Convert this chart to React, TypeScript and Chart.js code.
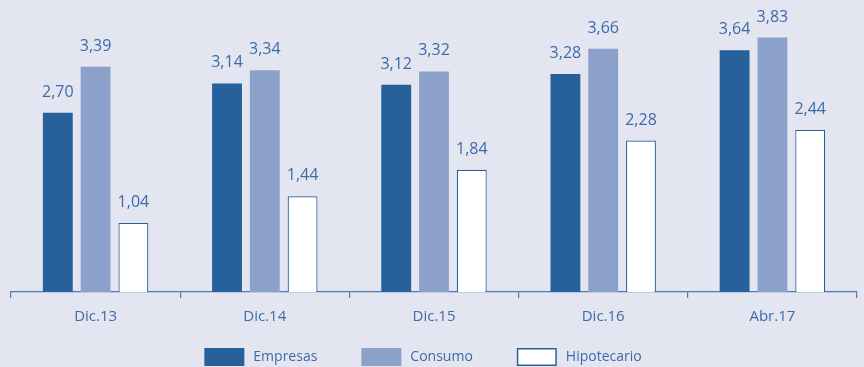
import React, { useEffect, useRef } from "react";
import { Chart, registerables } from "chart.js";

Chart.register(...registerables);

const categories = ["Dic.13", "Dic.14", "Dic.15", "Dic.16", "Abr.17"];
const seriesNames = ["Empresas", "Consumo", "Hipotecario"];
const empresas = [2.7, 3.14, 3.12, 3.28, 3.64];
const consumo = [3.39, 3.34, 3.32, 3.66, 3.83];
const hipotecario = [1.04, 1.44, 1.84, 2.28, 2.44];

const BG = "#e3e5f1";
const DARK = "#26619c";
const LIGHT = "#8ca1c9";
const TEXT = "#3d6ba7";
const FONT = "'Open Sans', sans-serif";

const bgPlugin = {
  id: "bg",
  beforeDraw(chart: any) {
    const ctx = chart.ctx;
    ctx.save();
    ctx.fillStyle = BG;
    ctx.fillRect(0, 0, chart.width, chart.height);
    ctx.restore();
  },
};

const valuePlugin = {
  id: "values",
  afterDatasetsDraw(chart: any) {
    const ctx = chart.ctx;
    ctx.save();
    ctx.fillStyle = TEXT;
    ctx.font = `16px ${FONT}`;
    ctx.textAlign = "center";
    ctx.textBaseline = "alphabetic";
    chart.data.datasets.forEach((ds: any, i: number) => {
      const meta = chart.getDatasetMeta(i);
      meta.data.forEach((bar: any, j: number) => {
        const v = ds.data[j] as number;
        ctx.fillText(v.toFixed(2).replace(".", ","), bar.x, bar.y - 16);
      });
    });
    ctx.restore();
  },
};

const legendPlugin = {
  id: "customLegend",
  afterDraw(chart: any) {
    const ctx = chart.ctx;
    ctx.save();
    ctx.font = `14px ${FONT}`;
    const boxW = 40;
    const boxH = 18;
    const gapText = 9;
    const gapItem = 44;
    const items = chart.data.datasets.map((ds: any) => ({
      label: ds.label as string,
      fill: ds.backgroundColor as string,
      border: ds.borderColor as string,
      bw: ds.borderWidth as number,
      w: boxW + gapText + ctx.measureText(ds.label).width,
    }));
    const total =
      items.reduce((s: number, it: any) => s + it.w, 0) + gapItem * (items.length - 1);
    const center = (chart.chartArea.left + chart.chartArea.right) / 2 - 11;
    let x = center - total / 2;
    const yMid = chart.height - 10;
    items.forEach((it: any) => {
      ctx.fillStyle = it.fill;
      ctx.fillRect(x, yMid - boxH / 2, boxW, boxH);
      if (it.bw) {
        ctx.strokeStyle = it.border;
        ctx.lineWidth = 1.5;
        ctx.strokeRect(x + 0.75, yMid - boxH / 2 + 0.75, boxW - 1.5, boxH - 1.5);
      }
      ctx.fillStyle = TEXT;
      ctx.textAlign = "left";
      ctx.textBaseline = "middle";
      ctx.fillText(it.label, x + boxW + gapText, yMid);
      x += it.w + gapItem;
    });
    ctx.restore();
  },
};

export default function App() {
  const ref = useRef<HTMLCanvasElement | null>(null);
  useEffect(() => {
    document.body.style.background = BG;
    const chart = new Chart(ref.current as HTMLCanvasElement, {
      type: "bar",
      data: {
        labels: categories,
        datasets: [
          {
            label: seriesNames[0],
            data: empresas,
            backgroundColor: DARK,
            borderColor: DARK,
            borderWidth: 0,
          },
          {
            label: seriesNames[1],
            data: consumo,
            backgroundColor: LIGHT,
            borderColor: LIGHT,
            borderWidth: 0,
          },
          {
            label: seriesNames[2],
            data: hipotecario,
            backgroundColor: "#ffffff",
            borderColor: DARK,
            borderWidth: 1.2,
          },
        ],
      },
      options: {
        animation: false,
        responsive: false,
        maintainAspectRatio: false,
        layout: { padding: { left: 11, right: 7, top: 13, bottom: 31 } },
        datasets: {
          bar: { categoryPercentage: 0.67, barPercentage: 0.79 },
        },
        plugins: {
          legend: { display: false },
          tooltip: { enabled: false },
        },
        scales: {
          x: {
            offset: true,
            grid: {
              display: true,
              offset: true,
              drawOnChartArea: false,
              drawTicks: true,
              tickLength: 6,
              color: "#4d7cb2",
              lineWidth: 1.2,
            },
            border: { display: true, color: "#4d7cb2", width: 1.2 },
            ticks: {
              color: TEXT,
              font: { family: FONT, size: 15 },
              padding: 10,
            },
          },
          y: {
            display: false,
            min: 0,
            max: 4.2,
          },
        },
      },
      plugins: [bgPlugin, valuePlugin, legendPlugin],
    });
    return () => chart.destroy();
  }, []);
  return (
    <div style={{ position: "absolute", left: 0, top: 0, width: 864, height: 367 }}>
      <canvas ref={ref} width={864} height={367} style={{ display: "block" }} />
    </div>
  );
}
